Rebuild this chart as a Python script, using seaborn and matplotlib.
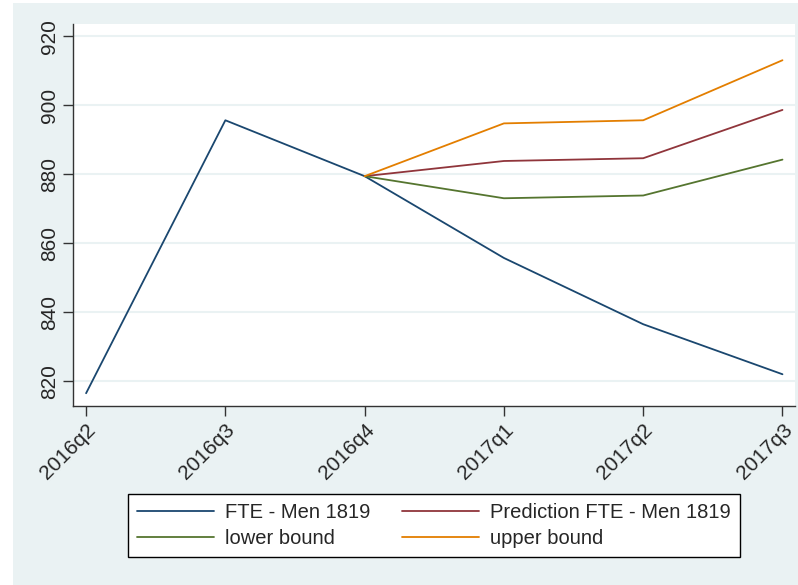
import numpy as np
import pandas as pd
import matplotlib
matplotlib.use("Agg")
import matplotlib.pyplot as plt
from matplotlib.patches import Rectangle
import seaborn as sns

# ── Data ──────────────────────────────────────────────────────────────
QUARTERS   = ["2016q2", "2016q3", "2016q4", "2017q1", "2017q2", "2017q3"]
FTE        = [816.5, 895.6, 879.4, 855.7, 836.5, 822.0]
FC_QTRS    = ["2016q4", "2017q1", "2017q2", "2017q3"]
PREDICTION = [879.4, 883.8, 884.6, 898.6]
LOWER      = [879.4, 873.0, 873.8, 884.2]
UPPER      = [879.4, 894.7, 895.6, 913.0]

SERIES = ["FTE - Men 1819", "Prediction FTE - Men 1819", "lower bound", "upper bound"]
COLORS = ["#1a476f", "#90353b", "#55752f", "#e37e00"]
Y_TICKS = [820, 840, 860, 880, 900, 920]

BG = "#eaf2f3"

# ── Long-form table ───────────────────────────────────────────────────
frames = [pd.DataFrame({"quarter": QUARTERS, "value": FTE, "series": SERIES[0]})]
for name, vals in zip(SERIES[1:], [PREDICTION, LOWER, UPPER]):
    frames.append(pd.DataFrame({"quarter": FC_QTRS, "value": vals, "series": name}))
df = pd.concat(frames, ignore_index=True)
df["pos"] = df["quarter"].map({q: i for i, q in enumerate(QUARTERS)})

# ── Plot ──────────────────────────────────────────────────────────────
sns.set_theme(style="white")
plt.rcParams["font.family"] = ["Liberation Sans", "DejaVu Sans"]

fig = plt.figure(figsize=(7.98, 5.85), dpi=100, facecolor="white")
fig.add_artist(Rectangle((13 / 798, 0), 1, 1 - 3 / 585, transform=fig.transFigure,
                         facecolor=BG, edgecolor="none", zorder=-10))
ax = fig.add_axes([73 / 798, 1 - 406 / 585, (795 - 73) / 798, (406 - 24) / 585])
ax.set_facecolor("white")

sns.lineplot(data=df, x="pos", y="value", hue="series", hue_order=SERIES,
             palette=COLORS, linewidth=1.3, legend=False, ax=ax)

ax.set_xlim(-0.094, 5.09)
ax.set_ylim(812.8, 923.5)
ax.set_xticks(range(len(QUARTERS)))
ax.set_xticklabels(QUARTERS, rotation=45, ha="right", rotation_mode="anchor", fontsize=15)
ax.set_yticks(Y_TICKS)
ax.set_yticklabels([str(v) for v in Y_TICKS], rotation=90, va="center", fontsize=15)
ax.set_xlabel("")
ax.set_ylabel("")

ax.yaxis.grid(True, color=BG, linewidth=1.5)
ax.set_axisbelow(True)
for side in ["top", "right"]:
    ax.spines[side].set_visible(False)
for side in ["left", "bottom"]:
    ax.spines[side].set_color("#333333")
    ax.spines[side].set_linewidth(1.0)
ax.tick_params(axis="both", which="major", length=7, width=1.0, color="#333333",
               direction="out", bottom=True, left=True, pad=3)

handles = ax.get_lines()[:4]
leg_order = [0, 2, 1, 3]  # column-wise fill -> rows: FTE/Prediction, lower/upper
leg = fig.legend([handles[i] for i in leg_order], [SERIES[i] for i in leg_order],
                 loc="center", bbox_to_anchor=(434 / 798, 1 - 525.5 / 585),
                 ncol=2, fontsize=14.5, frameon=True, fancybox=False,
                 edgecolor="black", facecolor="white", framealpha=1,
                 handlelength=3.8, handletextpad=0.55, columnspacing=1.6,
                 labelspacing=0.32, borderpad=0.45)
leg.get_frame().set_linewidth(1.0)

fig.savefig("out.png", dpi=100, facecolor=fig.get_facecolor())
